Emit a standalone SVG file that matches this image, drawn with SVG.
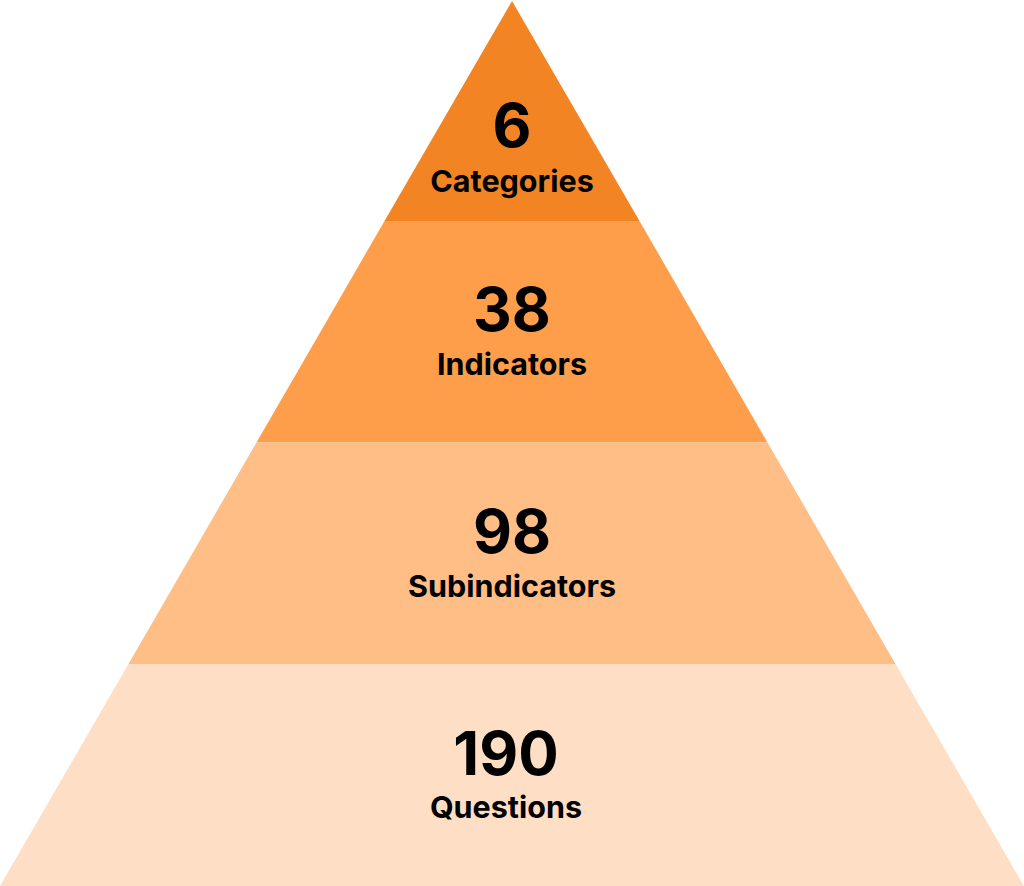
<svg xmlns="http://www.w3.org/2000/svg" width="1024" height="886" viewBox="0 0 1024 886">
<style>
.num{font-family:Inter,"Liberation Sans",sans-serif;font-weight:700;font-size:60px;fill:#000;text-anchor:middle}
.lbl{font-family:Inter,"Liberation Sans",sans-serif;font-weight:700;font-size:30.5px;fill:#000;text-anchor:middle}
</style>
<rect width="1024" height="886" fill="#fff"/>
<g id="tier1">
<polygon points="512,1 639.5,221 384.5,221" fill="#F38423"/>
<text class="num" x="512" y="147">6</text>
<text class="lbl" x="512" y="192">Categories</text>
</g>
<g id="tier2">
<polygon points="639.5,221 767.5,442.5 256.5,442.5 384.5,221" fill="#FE9E4B"/>
<text class="num" x="512" y="331">38</text>
<text class="lbl" x="512" y="375">Indicators</text>
</g>
<g id="tier3">
<polygon points="767.5,442.5 895.5,664 128.5,664 256.5,442.5" fill="#FEBE86"/>
<text class="num" x="512" y="553">98</text>
<text class="lbl" x="512" y="597">Subindicators</text>
</g>
<g id="tier4">
<polygon points="895.5,664 1024,886 0,886 128.5,664" fill="#FEDFC5"/>
<text class="num" x="506" y="775">190</text>
<text class="lbl" x="506" y="818">Questions</text>
</g>
<g id="connectors"/>
</svg>
